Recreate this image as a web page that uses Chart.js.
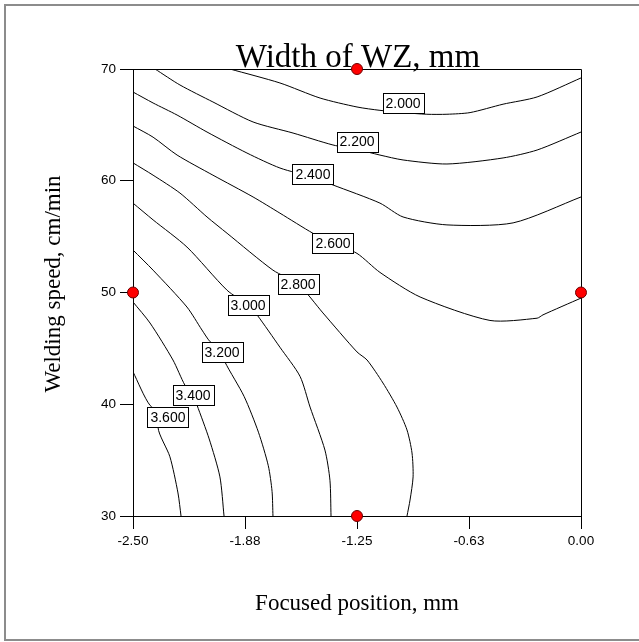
<!DOCTYPE html>
<html>
<head>
<meta charset="utf-8">
<title>Width of WZ, mm</title>
<script src="https://cdn.jsdelivr.net/npm/chart.js@4/dist/chart.umd.min.js"></script>
<style>
  html, body { margin: 0; padding: 0; background: #ffffff; }
  canvas { display: block; }
</style>
</head>
<body>
<canvas id="chart" width="639" height="642"></canvas>
<script>
// Axis ticks
const xTickValues = [-2.5, -1.875, -1.25, -0.625, 0];
const xTickLabels = ['-2.50', '-1.88', '-1.25', '-0.63', '0.00'];
const yTickValues = [30, 40, 50, 60, 70];

// Contour levels of the fitted response (width of weld zone, mm)
const contourLevels = ['2.000', '2.200', '2.400', '2.600', '2.800', '3.000', '3.200', '3.400', '3.600'];

// Contour traces: [focused position (mm), welding speed (cm/min)]
const contour2000 = [[-1.959, 70.0], [-1.68, 68.75], [-1.456, 67.4], [-1.25, 66.6], [-1.122, 66.3],
  [-0.993, 66.1], [-0.86, 65.95], [-0.748, 65.95], [-0.619, 66.1], [-0.435, 66.85], [-0.245, 67.5], [0, 69.2]];
const contour2200 = [[-2.377, 70.0], [-2.238, 68.57], [-2.054, 67.05], [-1.83, 65.26], [-1.607, 64.27],
  [-1.384, 63.2], [-1.25, 62.8], [-1.122, 62.3], [-0.993, 61.86], [-0.748, 61.5], [-0.435, 62.04],
  [-0.245, 62.75], [0, 64.36]];
const contour2400 = [[-2.5, 67.94], [-2.388, 66.96], [-2.254, 65.88], [-2.087, 64.36], [-1.864, 62.48],
  [-1.68, 61.14], [-1.496, 60.3], [-1.384, 59.62], [-1.122, 58.0], [-0.993, 56.76], [-0.748, 56.05],
  [-0.379, 56.23], [0, 58.55]];
const contour2600 = [[-2.5, 64.9], [-2.388, 63.9], [-2.254, 62.3], [-2.054, 60.5], [-1.83, 58.55],
  [-1.68, 57.1], [-1.496, 55.3], [-1.384, 54.4], [-1.25, 53.5], [-1.122, 51.8], [-0.898, 49.6],
  [-0.508, 47.5], [-0.245, 47.7], [-0.212, 48.0], [0, 49.5]];
const contour2800 = [[-2.5, 61.6], [-2.388, 60.5], [-2.238, 58.9], [-2.087, 56.76], [-1.975, 55.3],
  [-1.719, 52.0], [-1.579, 50.76], [-1.44, 48.17], [-1.25, 44.68], [-1.194, 43.96], [-1.105, 41.9],
  [-1.027, 39.75], [-0.971, 37.7], [-0.943, 35.64], [-0.937, 33.5], [-0.954, 31.43], [-0.971, 30.0]];
const contour3000 = [[-2.5, 58.0], [-2.388, 56.5], [-2.199, 54.07], [-1.975, 50.2], [-1.858, 48.88],
  [-1.808, 48.0], [-1.68, 45.1], [-1.568, 42.5], [-1.512, 39.75], [-1.429, 35.9], [-1.401, 33.2], [-1.395, 30.0]];
const contour3200 = [[-2.5, 53.8], [-2.388, 52.0], [-2.199, 48.7], [-2.115, 46.64], [-2.07, 45.6],
  [-2.003, 44.68], [-1.987, 43.78], [-1.88, 40.7], [-1.8, 37.5], [-1.745, 34.5], [-1.724, 32.2], [-1.719, 30.0]];
const contour3400 = [[-2.5, 49.15], [-2.405, 47.27], [-2.277, 43.96], [-2.21, 41.7], [-2.165, 40.83],
  [-2.143, 39.93], [-2.075, 36.9], [-2.015, 33.5], [-1.992, 30.0]];
const contour3600 = [[-2.5, 42.9], [-2.405, 39.9], [-2.305, 38.86], [-2.36, 37.9], [-2.294, 35.3],
  [-2.249, 32.06], [-2.232, 30.0]];

// Where each level label sits on its contour [focused position, welding speed]
const contourLabelAt = [[-0.993, 66.96], [-1.25, 63.5], [-1.496, 60.6], [-1.384, 54.43], [-1.579, 50.76],
  [-1.858, 48.88], [-2.003, 44.68], [-2.165, 40.83], [-2.305, 38.86]];

// Experimental design points
const designX = [-1.25, -2.5, 0, -1.25];
const designY = [70, 50, 50, 30];

const contours = [contour2000, contour2200, contour2400, contour2600, contour2800,
  contour3000, contour3200, contour3400, contour3600];

const toPoints = arr => arr.map(([x, y]) => ({ x, y }));

const datasets = contours.map((c, i) => ({
  label: contourLevels[i],
  data: toPoints(c),
  showLine: true,
  borderColor: '#000000',
  borderWidth: 1,
  pointRadius: 0,
  pointHoverRadius: 0,
  tension: 0.25,
  fill: false
}));

datasets.push({
  label: 'Design points',
  data: designX.map((x, i) => ({ x, y: designY[i] })),
  showLine: false,
  pointRadius: 5.5,
  pointBackgroundColor: '#ff0000',
  pointBorderColor: '#6b0000',
  pointBorderWidth: 1,
  clip: false
});

const SERIF = '"Liberation Serif", "Times New Roman", serif';
const SANS = '"Liberation Sans", Arial, sans-serif';

const decorations = {
  id: 'decorations',
  beforeDatasetsDraw(chart) {
    const { ctx, chartArea: a } = chart;
    ctx.save();
    // outer frame
    ctx.strokeStyle = '#8c8c8c';
    ctx.lineWidth = 2;
    ctx.strokeRect(5, 5, 640, 635);
    // plot box top and right edges
    ctx.strokeStyle = '#000000';
    ctx.lineWidth = 1;
    ctx.beginPath();
    ctx.moveTo(a.left - 13, Math.round(a.top) + 0.5);
    ctx.lineTo(a.right + 0.5, Math.round(a.top) + 0.5);
    ctx.lineTo(Math.round(a.right) + 0.5, a.bottom);
    ctx.stroke();
    // chart title
    ctx.fillStyle = '#000000';
    ctx.font = '33px ' + SERIF;
    ctx.textAlign = 'center';
    ctx.textBaseline = 'alphabetic';
    ctx.fillText('Width of WZ, mm', (a.left + a.right) / 2 + 1, a.top - 2.5);
    // axis titles
    ctx.font = '23px ' + SERIF;
    ctx.fillText('Focused position, mm', (a.left + a.right) / 2, 610);
    ctx.translate(60, 284);
    ctx.rotate(-Math.PI / 2);
    ctx.fillText('Welding speed, cm/min', 0, 0);
    ctx.restore();
  },
  afterDatasetsDraw(chart) {
    const { ctx, scales: { x, y } } = chart;
    ctx.save();
    ctx.font = '14px ' + SANS;
    ctx.textAlign = 'center';
    ctx.textBaseline = 'middle';
    contourLabelAt.forEach(([lx, ly], i) => {
      const px = x.getPixelForValue(lx);
      const py = y.getPixelForValue(ly);
      const text = contourLevels[i];
      const w = Math.round(ctx.measureText(text).width) + 6;
      const h = 20;
      const left = Math.round(px - w / 2) + 0.5;
      const top = Math.round(py - h / 2) + 0.5;
      ctx.fillStyle = '#ffffff';
      ctx.fillRect(left, top, w, h);
      ctx.strokeStyle = '#000000';
      ctx.lineWidth = 1;
      ctx.strokeRect(left, top, w, h);
      ctx.fillStyle = '#000000';
      ctx.fillText(text, px, py + 1);
    });
    ctx.restore();
  }
};

new Chart(document.getElementById('chart'), {
  type: 'scatter',
  data: { datasets },
  options: {
    responsive: false,
    animation: false,
    devicePixelRatio: 1,
    events: [],
    layout: { padding: { left: 0, top: 69, right: 58, bottom: 0 } },
    plugins: {
      legend: { display: false },
      tooltip: { enabled: false },
      title: { display: false }
    },
    scales: {
      x: {
        type: 'linear',
        min: -2.5,
        max: 0,
        afterFit(s) { s.height = 126; },
        afterBuildTicks(s) { s.ticks = xTickValues.map(v => ({ value: v })); },
        ticks: {
          color: '#000000',
          font: { family: SANS, size: 13.5 },
          padding: 4,
          maxRotation: 0,
          autoSkip: false,
          callback: (v, i) => xTickLabels[i]
        },
        grid: {
          drawOnChartArea: false,
          drawTicks: true,
          tickLength: 13,
          tickColor: '#000000',
          tickWidth: 1
        },
        border: { display: true, color: '#000000', width: 1 }
      },
      y: {
        type: 'linear',
        min: 30,
        max: 70,
        afterFit(s) { s.width = 133; },
        afterBuildTicks(s) { s.ticks = yTickValues.map(v => ({ value: v })); },
        ticks: {
          color: '#000000',
          font: { family: SANS, size: 13.5 },
          padding: 4,
          autoSkip: false,
          callback: v => String(v)
        },
        grid: {
          drawOnChartArea: false,
          drawTicks: true,
          tickLength: 13,
          tickColor: '#000000',
          tickWidth: 1
        },
        border: { display: true, color: '#000000', width: 1 }
      }
    }
  },
  plugins: [decorations]
});
</script>
</body>
</html>
